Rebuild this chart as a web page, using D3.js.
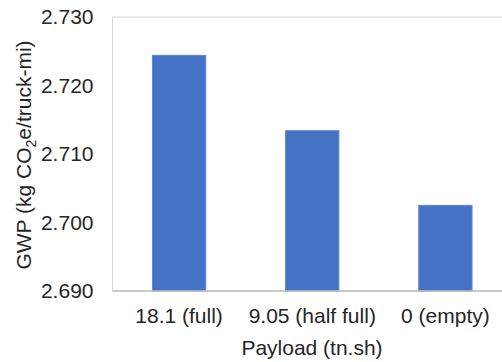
<!DOCTYPE html>
<html>
<head>
<meta charset="utf-8">
<script src="https://cdn.jsdelivr.net/npm/d3@7"></script>
<style>
  body { margin: 0; background: #fff; }
  text { font-family: "Liberation Sans", Arial, sans-serif; fill: #262626; }
</style>
</head>
<body>
<div id="chart"></div>
<script>
const categories = ["18.1 (full)", "9.05 (half full)", "0 (empty)"];
const gwpValues = [2.7244, 2.7134, 2.7025];
const yTicks = [2.690, 2.700, 2.710, 2.720, 2.730];

const width = 502, height = 362;
const margin = { top: 17, right: -10, bottom: 71, left: 112.5 };

const svg = d3.select("#chart")
  .append("svg")
  .attr("width", width)
  .attr("height", height);

const x = d3.scaleBand()
  .domain(categories)
  .range([margin.left, width - margin.right])
  .paddingInner(0.6)
  .paddingOuter(0.3);

const y = d3.scaleLinear()
  .domain([2.690, 2.730])
  .range([height - margin.bottom, margin.top]);

// plot area border
svg.append("rect")
  .attr("x", margin.left)
  .attr("y", y(2.730))
  .attr("width", width - margin.right - margin.left)
  .attr("height", y(2.690) - y(2.730))
  .attr("fill", "none")
  .attr("stroke", "#d9d9d9")
  .attr("stroke-width", 1);

svg.append("g")
  .selectAll("rect")
  .data(gwpValues)
  .enter()
  .append("rect")
  .attr("x", (d, i) => x(categories[i]))
  .attr("y", d => y(d))
  .attr("width", x.bandwidth())
  .attr("height", d => y(2.690) - y(d))
  .attr("fill", "#4472c4")
  .attr("stroke", "#5b86d0")
  .attr("stroke-width", 1);

// x axis line
svg.append("line")
  .attr("x1", margin.left)
  .attr("x2", width - margin.right)
  .attr("y1", y(2.690))
  .attr("y2", y(2.690))
  .attr("stroke", "#bfbfbf")
  .attr("stroke-width", 1.5);

const yAxis = svg.append("g")
  .attr("transform", `translate(${margin.left},0)`)
  .call(d3.axisLeft(y).tickValues(yTicks).tickFormat(d3.format(".3f")).tickSize(0).tickPadding(19));
yAxis.select(".domain").remove();
yAxis.selectAll("text")
  .style("font-size", "21px")
  .style("font-family", "Liberation Sans, Arial, sans-serif")
  .attr("fill", "#262626");

const xAxis = svg.append("g")
  .attr("transform", `translate(0,${y(2.690)})`)
  .call(d3.axisBottom(x).tickSize(0).tickPadding(17));
xAxis.select(".domain").remove();
xAxis.selectAll("text")
  .style("font-size", "21px")
  .style("font-family", "Liberation Sans, Arial, sans-serif")
  .attr("fill", "#262626");

svg.append("text")
  .attr("x", 312)
  .attr("y", 355)
  .attr("text-anchor", "middle")
  .style("font-size", "21px")
  .text("Payload (tn.sh)");

const yTitle = svg.append("text")
  .attr("transform", "translate(31,155) rotate(-90)")
  .attr("text-anchor", "middle")
  .style("font-size", "21px");
yTitle.append("tspan").text("GWP (kg CO");
yTitle.append("tspan").attr("dy", 5).style("font-size", "14px").text("2");
yTitle.append("tspan").attr("dy", -5).text("e/truck-mi)");
</script>
</body>
</html>
